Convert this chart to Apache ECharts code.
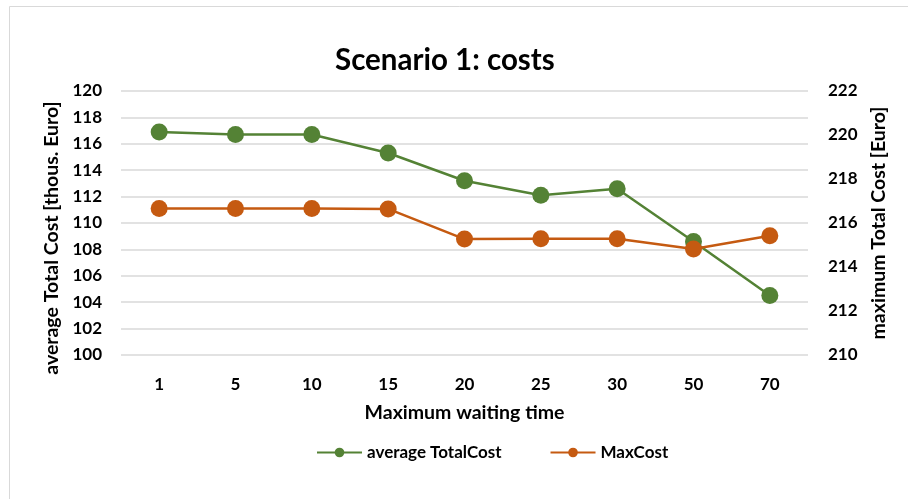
<!DOCTYPE html>
<html>
<head>
<meta charset="utf-8">
<script src="https://cdn.jsdelivr.net/npm/echarts@6/dist/echarts.min.js"></script>
<style>
  html, body { margin: 0; padding: 0; background: #fff; }
  #chart { width: 908px; height: 499px; }
</style>
</head>
<body>
<div id="chart"></div>
<script>
// Maximum waiting time categories
const waitingTimes = ['1', '5', '10', '15', '20', '25', '30', '50', '70'];
// Average total cost per run, thousands of euro (left axis)
const avgTotalCost = [116.9, 116.7, 116.7, 115.3, 113.2, 112.1, 112.6, 108.6, 104.5];
// Maximum total cost, euro (right axis)
const maxCost = [216.66, 216.66, 216.66, 216.64, 215.27, 215.28, 215.28, 214.82, 215.42];

const FONT = 'Lato, "Open Sans", sans-serif';
const GREEN = '#548235';
const ORANGE = '#C55A11';

const chart = echarts.init(document.getElementById('chart'), null, { renderer: 'canvas' });

chart.setOption({
  backgroundColor: '#ffffff',
  animation: false,
  textStyle: { fontFamily: FONT },
  graphic: [{
    type: 'rect',
    shape: { x: 9.5, y: 6.5, width: 920, height: 520 },
    style: { fill: 'none', stroke: '#d9d9d9', lineWidth: 1 },
    silent: true
  }],
  title: {
    text: 'Scenario 1: costs',
    left: 330,
    top: 40,
    textStyle: { fontFamily: FONT, fontWeight: 'bold', fontSize: 29.5, color: '#000' }
  },
  legend: {
    bottom: 33,
    left: 311,
    itemWidth: 45,
    itemHeight: 12,
    itemGap: 48,
    textStyle: { fontFamily: FONT, fontWeight: 'bold', fontSize: 17, color: '#000' },
    data: ['average TotalCost', 'MaxCost']
  },
  grid: { left: 121, right: 100, top: 91, height: 264 },
  xAxis: {
    type: 'category',
    data: waitingTimes,
    name: 'Maximum waiting time',
    nameLocation: 'middle',
    nameGap: 48,
    nameTextStyle: { fontFamily: FONT, fontWeight: 'bold', fontSize: 19.5, color: '#000' },
    axisLine: { show: false },
    axisTick: { show: false },
    axisLabel: { fontFamily: FONT, fontWeight: 'bold', fontSize: 17, color: '#000', margin: 21 }
  },
  yAxis: [{
    type: 'value',
    min: 100, max: 120, interval: 2,
    name: 'average Total Cost [thous. Euro]',
    nameLocation: 'middle',
    nameGap: 58,
    nameTextStyle: {
      fontFamily: FONT, fontWeight: 'bold', fontSize: 19.5, color: '#000',
      padding: [0, 30, 0, 0]
    },
    axisLine: { show: false },
    axisTick: { show: false },
    axisLabel: { fontFamily: FONT, fontWeight: 'bold', fontSize: 17, color: '#000', margin: 19 },
    splitLine: { lineStyle: { color: '#d9d9d9', width: 1.5 } }
  }, {
    type: 'value',
    min: 210, max: 222, interval: 2,
    name: 'maximum Total Cost [Euro]',
    nameLocation: 'middle',
    nameGap: 60,
    nameRotate: 90,
    nameTextStyle: { fontFamily: FONT, fontWeight: 'bold', fontSize: 19.5, color: '#000' },
    axisLine: { show: false },
    axisTick: { show: false },
    axisLabel: { fontFamily: FONT, fontWeight: 'bold', fontSize: 17, color: '#000', margin: 20 },
    splitLine: { show: false }
  }],
  series: [{
    name: 'average TotalCost',
    type: 'line',
    yAxisIndex: 0,
    data: avgTotalCost,
    symbol: 'circle',
    symbolSize: 17,
    itemStyle: { color: GREEN },
    lineStyle: { color: GREEN, width: 2.5 },
    z: 2
  }, {
    name: 'MaxCost',
    type: 'line',
    yAxisIndex: 1,
    data: maxCost,
    symbol: 'circle',
    symbolSize: 17,
    itemStyle: { color: ORANGE },
    lineStyle: { color: ORANGE, width: 2.5 },
    z: 3
  }]
});
</script>
</body>
</html>
